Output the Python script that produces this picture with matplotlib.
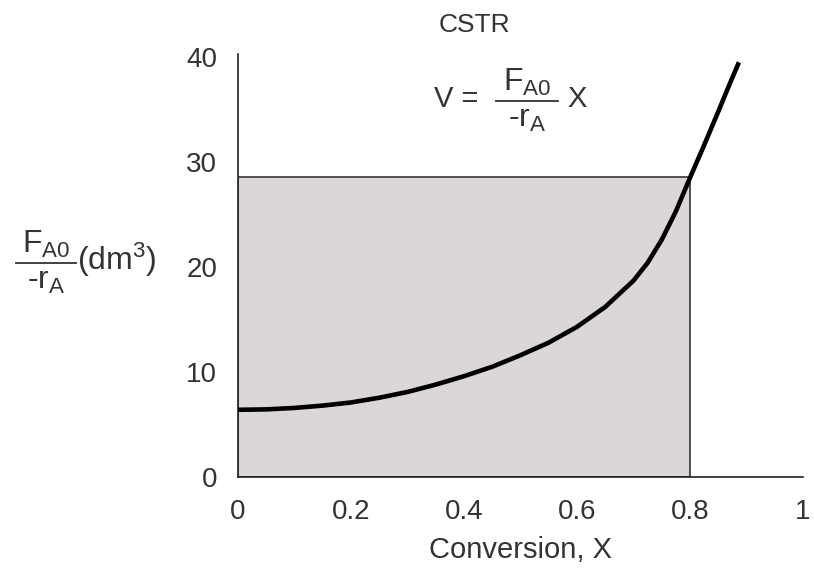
import numpy as np
import matplotlib
matplotlib.use('Agg')
import matplotlib.pyplot as plt
from matplotlib.patches import Rectangle
from matplotlib.lines import Line2D

# Levenspiel plot values
conversion = [0.0, 0.05, 0.1, 0.15, 0.2, 0.25, 0.3, 0.35, 0.4, 0.45, 0.5,
              0.55, 0.6, 0.65, 0.7, 0.725, 0.75, 0.775, 0.8, 0.825, 0.85,
              0.87, 0.885]
fa0_over_ra = [6.4, 6.44, 6.58, 6.8, 7.1, 7.55, 8.1, 8.8, 9.6, 10.5, 11.6,
               12.8, 14.3, 16.2, 18.7, 20.4, 22.6, 25.3, 28.5, 31.6, 34.8,
               37.4, 39.3]
x_exit = 0.8
height_exit = 28.6
x_ticks = [0, 0.2, 0.4, 0.6, 0.8, 1]
x_tick_labels = ['0', '0.2', '0.4', '0.6', '0.8', '1']
y_ticks = [0, 10, 20, 30, 40]

plt.rcParams['font.family'] = ['Liberation Sans', 'DejaVu Sans']
plt.rcParams['mathtext.fontset'] = 'custom'
plt.rcParams['mathtext.rm'] = 'Liberation Sans'
plt.rcParams['mathtext.it'] = 'Liberation Sans'

W, H = 814, 574
TXT = '#333333'

fig = plt.figure(figsize=(W / 100, H / 100), dpi=100)
ax = fig.add_axes([238 / W, 1 - 477 / H, 565 / W, 420 / H])


def px(x, y):
    """pixel position (from top-left) -> figure fraction"""
    return x / W, 1 - y / H


def fraction(xc, yline, width, num, den, size):
    """stacked fraction: numerator, bar, denominator"""
    x0, y0 = px(xc - width / 2, yline)
    x1, _ = px(xc + width / 2, yline)
    fig.add_artist(Line2D([x0, x1], [y0, y0], color=TXT, linewidth=1.3,
                          transform=fig.transFigure))
    fig.text(*px(xc, yline - 3), num, ha='center', va='bottom',
             fontsize=size, color=TXT)
    fig.text(*px(xc, yline + 3), den, ha='center', va='top',
             fontsize=size, color=TXT)


# CSTR volume = shaded rectangle
ax.add_patch(Rectangle((0, 0), x_exit, height_exit, facecolor='#dad7d6',
                       edgecolor='#333333', linewidth=1.2, zorder=1))
ax.plot(conversion, fa0_over_ra, color='black', linewidth=3.3, zorder=3)

ax.set_xlim(0, 1)
ax.set_ylim(0, 40)
ax.set_xticks(x_ticks)
ax.set_xticklabels(x_tick_labels)
ax.set_yticks(y_ticks)
ax.tick_params(length=0, labelsize=20, colors=TXT)
ax.tick_params(axis='x', pad=16)
ax.tick_params(axis='y', pad=15)
for s in ['top', 'right']:
    ax.spines[s].set_visible(False)
for s in ['left', 'bottom']:
    ax.spines[s].set_color('#222222')
    ax.spines[s].set_linewidth(1.2)
ax.spines['left'].set_bounds(0, 40.3)

ax.set_xlabel('Conversion, X', fontsize=21, color=TXT, labelpad=8)

# title and design equation
fig.text(*px(474, 25), 'CSTR', ha='center', va='center', fontsize=19,
         color=TXT)
fig.text(*px(456, 99), 'V =', ha='center', va='center', fontsize=21,
         color=TXT)
fraction(527, 101, 62, r'F$_{\mathrm{A0}}$', r'-r$_{\mathrm{A}}$', 23)
fig.text(*px(577, 99), 'X', ha='center', va='center', fontsize=21,
         color=TXT)

# y axis label
fraction(46, 263, 60, r'F$_{\mathrm{A0}}$', r'-r$_{\mathrm{A}}$', 23)
fig.text(*px(77, 260), r'(dm$^{\mathrm{3}}$)', ha='left', va='center',
         fontsize=23, color=TXT)

fig.savefig('out.png', dpi=100)
